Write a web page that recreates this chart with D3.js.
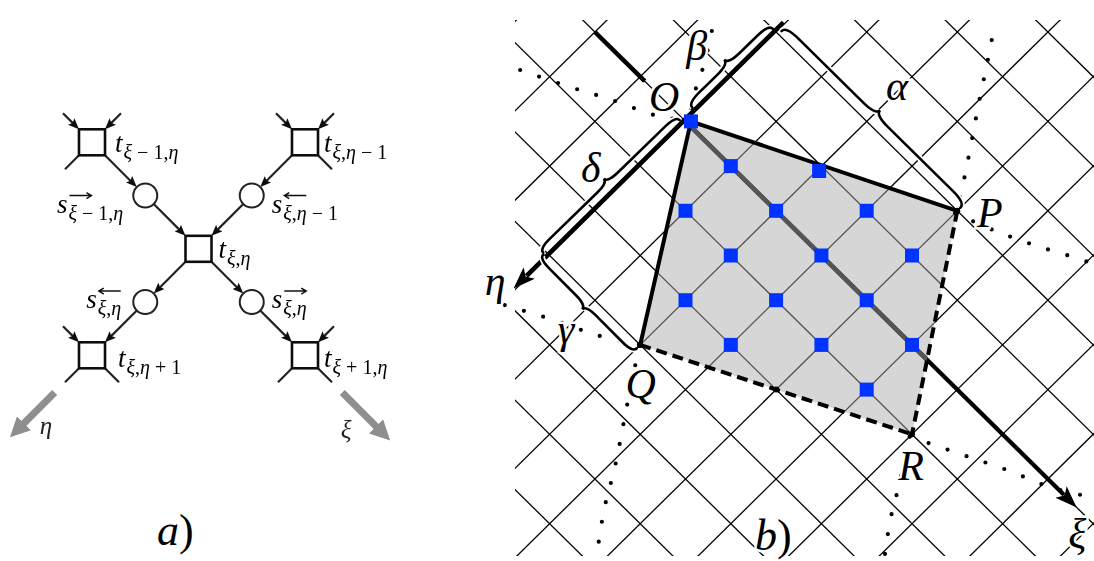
<!DOCTYPE html>
<html>
<head>
<meta charset="utf-8">
<script src="https://cdn.jsdelivr.net/npm/d3@7"></script>
<style>
  body { margin: 0; background: #fff; }
  svg { display: block; }
  text { font-family: "Liberation Serif", "DejaVu Serif", serif; font-style: italic; fill: #000; }
</style>
</head>
<body>
<script>
// ---------- panel a: factor graph, in (xi, eta) lattice units ----------
var factorXi  = [-1, 0, 0, 0, 1];
var factorEta = [0, -1, 0, 1, 0];
var factorSub = ["ξ − 1,η", "ξ,η − 1", "ξ,η", "ξ,η + 1", "ξ + 1,η"];

var msgXi  = [-0.5, 0, 0, 0.5];
var msgEta = [0, -0.5, 0.5, 0];
var msgSub = ["ξ − 1,η", "ξ,η − 1", "ξ,η", "ξ,η"];
var msgDir = ["right", "left", "left", "right"];

// directed links: [from, to], f = factor index, m = message index
var linkFrom = ["f0", "m0", "f1", "m1", "f2", "m2", "f2", "m3"];
var linkTo   = ["m0", "f2", "m1", "f2", "m2", "f3", "m3", "f4"];

// stubs on outer factors: direction names -xi, -eta, +xi, +eta
var stubIn  = [["-xi", "-eta"], ["-xi", "-eta"], [], ["-xi"], ["-eta"]];
var stubOut = [["+eta"], ["+xi"], [], ["+eta", "+xi"], ["+eta", "+xi"]];

// ---------- panel b: lattice (a along xi, b along eta) ----------
var gridA = [-4, -3, -2, -1, 0, 1, 2, 3, 4, 5, 6, 7, 8, 9, 10];
var gridB = [-7, -6, -5, -4, -3, -2, -1, 0, 1, 2, 3, 4, 5, 6, 7, 8];

var cornerName = ["O", "P", "R", "Q"];
var cornerA = [0.06, 4, 6, 2];
var cornerB = [-0.06, -2, 1, 3];

var blueA = [0.06, 1, 2.03, 1, 2, 3, 2, 3, 4, 2, 3, 4, 3, 4, 5, 5];
var blueB = [-0.06, 0, -0.92, 1, 0, -1, 1, 0, -1, 2, 1, 0, 2, 1, 0, 1];

var dotCurves = [
  [[-2.40, 1.25], [-1.66, 0.89], [-1.05, 0.57], [-0.41, 0.27], [-0.04, 0.01]],
  [[-0.09, -0.21], [-0.28, -0.53], [-0.45, -0.88], [-0.69, -1.25], [-0.85, -1.53]],
  [[2.47, -4.29], [2.68, -3.98], [2.98, -3.52], [3.37, -2.95], [3.79, -2.32], [4.0, -1.95]],
  [[4.0, -1.95], [4.61, -2.18], [5.24, -2.47], [5.85, -2.79], [6.10, -2.91]],
  [[0.06, 4.05], [0.76, 3.68], [1.41, 3.37], [2.0, 3.0]],
  [[2.0, 3.02], [2.53, 3.82], [3.07, 4.62], [3.45, 5.25], [3.85, 5.80]],
  [[6.0, 1.05], [6.79, 0.67], [7.45, 0.35], [8.11, 0.07], [8.72, -0.30]],
  [[6.0, 1.05], [6.49, 1.82], [6.72, 2.20], [7.05, 2.65]]
];

// braces: from, to (lattice), depth px
var braceFrom = [[-0.08, -0.23], [0.05, -2.07], [-0.1, 3.04], [2.0, 3.08]];
var braceTo   = [[-0.07, -2.0], [4.0, -2.07], [-0.08, 0.05], [-0.08, 3.06]];
var braceName = ["β", "α", "δ", "γ"];

var labelText = ["O", "β", "α", "P", "δ", "η", "γ", "Q", "R", "ξ"];
var labelA = [-0.35, -0.56, 2.10, 4.54, -0.37, -0.16, 1.16, 2.60, 6.50, 9.10];
var labelB = [0.12, -0.81, -2.57, -2.18, 1.72, 4.04, 3.80, 3.59, 1.52, 0.45];

// ---------- setup ----------
var svg = d3.select("body").append("svg").attr("width", 1094).attr("height", 561);
var defs = svg.append("defs");

function marker(id, d, w, h, refX, fill) {
  defs.append("marker").attr("id", id)
    .attr("viewBox", "0 0 " + w + " " + h)
    .attr("refX", refX).attr("refY", h / 2)
    .attr("markerWidth", w).attr("markerHeight", h)
    .attr("markerUnits", "userSpaceOnUse").attr("orient", "auto")
    .append("path").attr("d", d).attr("fill", fill);
}
marker("hb", "M0,0 L22,8 L0,16 L5,8 Z", 22, 16, 4, "#000");
marker("ha", "M0,0 L11,4.5 L0,9 L2,4.5 Z", 11, 9, 3, "#111");
marker("hg", "M0,0 L20,10 L0,20 Z", 20, 20, 3, "#8e8e8e");

defs.append("filter").attr("id", "soft")
  .append("feGaussianBlur").attr("stdDeviation", 0.55);

function shorten(p, q, d) {
  var dx = q[0] - p[0], dy = q[1] - p[1], L = Math.hypot(dx, dy);
  return [q[0] - dx / L * d, q[1] - dy / L * d];
}

// ================= panel a =================
var ua = d3.scaleLinear().domain([0, 1]).range([198.5, 305]);   // xi - eta
var va = d3.scaleLinear().domain([0, 1]).range([248.8, 355.3]); // xi + eta
function ptA(x, e) { return [ua(x - e), va(x + e)]; }

var gA = svg.append("g").attr("filter", "url(#soft)");
var half = 13, rad = 12;
var dirs = { "-xi": [-1, -1], "-eta": [1, -1], "+xi": [1, 1], "+eta": [-1, 1] };

function nodePos(id) {
  var i = +id.slice(1);
  return id[0] === "f" ? ptA(factorXi[i], factorEta[i]) : ptA(msgXi[i], msgEta[i]);
}
function edgePoint(id, toward) {
  var c = nodePos(id);
  var sx = Math.sign(toward[0] - c[0]), sy = Math.sign(toward[1] - c[1]);
  var k = id[0] === "f" ? half : rad / Math.SQRT2;
  return [c[0] + sx * k, c[1] + sy * k];
}

linkFrom.forEach(function (f, i) {
  var t = linkTo[i];
  var p = edgePoint(f, nodePos(t)), q = edgePoint(t, nodePos(f));
  var e = shorten(p, q, 8);
  gA.append("line").attr("x1", p[0]).attr("y1", p[1]).attr("x2", e[0]).attr("y2", e[1])
    .attr("stroke", "#222").attr("stroke-width", 2.2).attr("marker-end", "url(#ha)");
});

factorXi.forEach(function (x, i) {
  var c = ptA(x, factorEta[i]);
  stubIn[i].forEach(function (d) {
    var s = dirs[d], corner = [c[0] + s[0] * half, c[1] + s[1] * half];
    var start = [corner[0] + s[0] * 16, corner[1] + s[1] * 16];
    var e = shorten(start, corner, 8);
    gA.append("line").attr("x1", start[0]).attr("y1", start[1]).attr("x2", e[0]).attr("y2", e[1])
      .attr("stroke", "#222").attr("stroke-width", 2.2).attr("marker-end", "url(#ha)");
  });
  stubOut[i].forEach(function (d) {
    var s = dirs[d], corner = [c[0] + s[0] * half, c[1] + s[1] * half];
    gA.append("line").attr("x1", corner[0]).attr("y1", corner[1])
      .attr("x2", corner[0] + s[0] * 14).attr("y2", corner[1] + s[1] * 14)
      .attr("stroke", "#222").attr("stroke-width", 2.2);
  });
});

gA.selectAll("rect.factor").data(factorXi).enter().append("rect")
  .attr("class", "factor")
  .attr("x", function (d, i) { return ptA(d, factorEta[i])[0] - half; })
  .attr("y", function (d, i) { return ptA(d, factorEta[i])[1] - half; })
  .attr("width", 2 * half).attr("height", 2 * half)
  .attr("fill", "#fff").attr("stroke", "#111").attr("stroke-width", 2.6);

gA.selectAll("circle.msg").data(msgXi).enter().append("circle")
  .attr("class", "msg")
  .attr("cx", function (d, i) { return ptA(d, msgEta[i])[0]; })
  .attr("cy", function (d, i) { return ptA(d, msgEta[i])[1]; })
  .attr("r", rad).attr("fill", "#fff").attr("stroke", "#222").attr("stroke-width", 2);

function subLabel(x, y, main, sub, anchorEnd, over) {
  var grp = gA.append("g");
  var t1 = grp.append("text").attr("x", 0).attr("y", 0).style("font-size", "27px").text(main);
  var w1 = t1.node().getComputedTextLength();
  var t2 = grp.append("text").attr("x", w1 + 1).attr("y", 7).style("font-size", "20px");
  sub.split("").forEach(function (ch) {
    t2.append("tspan").style("font-style", /[ξη]/.test(ch) ? "italic" : "normal").text(ch);
  });
  var w2 = t2.node().getComputedTextLength();
  if (over) {
    var x0 = w1 + 2, x1 = w1 + 24, ay = -17;
    var head = over === "right"
      ? "M" + (x1 - 5) + "," + (ay - 3) + "L" + x1 + "," + ay + "L" + (x1 - 5) + "," + (ay + 3)
      : "M" + (x0 + 5) + "," + (ay - 3) + "L" + x0 + "," + ay + "L" + (x0 + 5) + "," + (ay + 3);
    grp.append("path").attr("d", "M" + x0 + "," + ay + "H" + x1 + head)
      .attr("fill", "none").attr("stroke", "#111").attr("stroke-width", 1.4);
  }
  var shift = anchorEnd ? -(w1 + 1 + w2) : 0;
  grp.attr("transform", "translate(" + (x + shift) + "," + y + ")");
}

var factorDx = [23, 19, 20, 26, 19], factorDy = [10, 10, 9, 12, 12];
factorXi.forEach(function (x, i) {
  var c = ptA(x, factorEta[i]);
  subLabel(c[0] + factorDx[i], c[1] + factorDy[i], "t", factorSub[i], false, null);
});
var msgDx = [-22, 20, -24, 20], msgDy = [17, 17, 6, 6];
msgXi.forEach(function (x, i) {
  var c = ptA(x, msgEta[i]);
  subLabel(c[0] + msgDx[i], c[1] + msgDy[i], "s", msgSub[i], msgDx[i] < 0, msgDir[i]);
});

// gray direction arrows
var axisLen = [[0, 1.35, 0, 1.77, "η", 36, -3], [1.35, 0, 1.80, 0, "ξ", -44, -3]];
axisLen.forEach(function (d) {
  var p = ptA(d[0], d[1]), q = ptA(d[2], d[3]);
  var e = shorten(p, q, 17);
  gA.append("line").attr("x1", p[0]).attr("y1", p[1]).attr("x2", e[0]).attr("y2", e[1])
    .attr("stroke", "#8e8e8e").attr("stroke-width", 7).attr("marker-end", "url(#hg)");
  gA.append("text").attr("x", q[0] + d[5]).attr("y", q[1] + d[6])
    .attr("text-anchor", "middle").style("font-size", "25px").style("fill", "#222").text(d[4]);
});

var la = svg.append("text").attr("x", 157).attr("y", 545).style("font-size", "44px");
la.append("tspan").text("a");
la.append("tspan").style("font-style", "normal").text(")");

// ================= panel b =================
var xb = d3.scaleLinear().domain([0, 1]).range([685.5, 730.8]); // a - b
var yb = d3.scaleLinear().domain([0, 1]).range([121.4, 166.1]); // a + b
function pt(a, b) { return [xb(a - b), yb(a + b)]; }

defs.append("clipPath").attr("id", "frame").append("rect")
  .attr("x", 515).attr("y", 20).attr("width", 579).attr("height", 536);

var polyPts = cornerA.map(function (a, i) { return pt(a, cornerB[i]); });
defs.append("clipPath").attr("id", "poly").append("polygon")
  .attr("points", polyPts.map(function (p) { return p.join(","); }).join(" "));

function gridLines(g, color, w) {
  gridA.forEach(function (a) {
    var p = pt(a, -9), q = pt(a, 10);
    g.append("line").attr("x1", p[0]).attr("y1", p[1]).attr("x2", q[0]).attr("y2", q[1])
      .attr("stroke", color).attr("stroke-width", w);
  });
  gridB.forEach(function (b) {
    var p = pt(-6, b), q = pt(13, b);
    g.append("line").attr("x1", p[0]).attr("y1", p[1]).attr("x2", q[0]).attr("y2", q[1])
      .attr("stroke", color).attr("stroke-width", w);
  });
}

var gB = svg.append("g");
gridLines(gB.append("g").attr("clip-path", "url(#frame)"), "#000", 1.3);

gB.append("polygon")
  .attr("points", polyPts.map(function (p) { return p.join(","); }).join(" "))
  .attr("fill", "#d6d6d6");
gridLines(gB.append("g").attr("clip-path", "url(#poly)"), "#555", 1.3);

// dotted curves
var curve = d3.line()
  .x(function (d) { return pt(d[0], d[1])[0]; })
  .y(function (d) { return pt(d[0], d[1])[1]; })
  .curve(d3.curveCatmullRom);
gB.selectAll("path.dot").data(dotCurves).enter().append("path")
  .attr("class", "dot").attr("d", curve)
  .attr("fill", "none").attr("stroke", "#000").attr("stroke-width", 4.2)
  .attr("stroke-linecap", "round").attr("stroke-dasharray", "0 20");

// axes
function axisLine(p, tip, w, withHead) {
  var e = withHead ? shorten(p, tip, 17) : tip;
  var l = gB.append("line").attr("x1", p[0]).attr("y1", p[1]).attr("x2", e[0]).attr("y2", e[1])
    .attr("stroke", "#000").attr("stroke-width", w);
  if (withHead) l.attr("marker-end", "url(#hb)");
}
axisLine(pt(0, 0), pt(8.62, 0), 4.2, true);      // xi axis
axisLine(pt(-0.03, -2.19), pt(-0.03, 3.75), 4.2, true); // eta axis
axisLine(pt(-2, 0), pt(-0.9, 0), 4.5, false);   // short bold piece

gB.append("line").attr("clip-path", "url(#poly)")
  .attr("x1", pt(0, 0)[0]).attr("y1", pt(0, 0)[1]).attr("x2", pt(7, 0)[0]).attr("y2", pt(7, 0)[1])
  .attr("stroke", "#555").attr("stroke-width", 4.6);

// polygon edges: O-P, O-Q solid ; P-R, Q-R dashed
var edgeFrom = [0, 0, 1, 3], edgeTo = [1, 3, 2, 2], edgeDash = [false, false, true, true];
edgeFrom.forEach(function (f, i) {
  var p = polyPts[f], q = polyPts[edgeTo[i]];
  gB.append("line").attr("x1", p[0]).attr("y1", p[1]).attr("x2", q[0]).attr("y2", q[1])
    .attr("stroke", "#000").attr("stroke-width", 4)
    .attr("stroke-dasharray", edgeDash[i] ? "11 6" : null);
});

// braces
function bracePath(p1, p2, q) {
  var dx = p2[0] - p1[0], dy = p2[1] - p1[1], L = Math.hypot(dx, dy);
  var ux = dx / L, uy = dy / L, nx = uy, ny = -ux;
  function P(s, n) { return [p1[0] + ux * s + nx * n, p1[1] + uy * s + ny * n]; }
  var r = Math.min(q * 1.3, L / 4), h = q / 2, m = L / 2;
  var p = d3.path(), a = P(0, 0), c, e;
  p.moveTo(a[0], a[1]);
  c = P(0, h); e = P(r, h); p.quadraticCurveTo(c[0], c[1], e[0], e[1]);
  e = P(m - r, h); p.lineTo(e[0], e[1]);
  c = P(m, h); e = P(m, q); p.quadraticCurveTo(c[0], c[1], e[0], e[1]);
  c = P(m, h); e = P(m + r, h); p.quadraticCurveTo(c[0], c[1], e[0], e[1]);
  e = P(L - r, h); p.lineTo(e[0], e[1]);
  c = P(L, h); e = P(L, 0); p.quadraticCurveTo(c[0], c[1], e[0], e[1]);
  return p.toString();
}
var braceDepth = [12, 13, 11, 11];
braceFrom.forEach(function (f, i) {
  var d = bracePath(pt(f[0], f[1]), pt(braceTo[i][0], braceTo[i][1]), braceDepth[i]);
  gB.append("path").attr("d", d).attr("fill", "none").attr("stroke", "#fff").attr("stroke-width", 6);
  gB.append("path").attr("d", d).attr("fill", "none").attr("stroke", "#000").attr("stroke-width", 2.6)
    .attr("stroke-linecap", "round");
});

// blue lattice points
gB.selectAll("rect.site").data(blueA).enter().append("rect")
  .attr("class", "site")
  .attr("x", function (d, i) { return pt(d, blueB[i])[0] - 7; })
  .attr("y", function (d, i) { return pt(d, blueB[i])[1] - 7; })
  .attr("width", 14).attr("height", 14).attr("fill", "#0033ff");

// small vertex dots
[[4, -2], [6, 1], [2, 3], [4, 2]].forEach(function (d) {
  var p = pt(d[0], d[1]);
  gB.append("circle").attr("cx", p[0]).attr("cy", p[1]).attr("r", 3).attr("fill", "#000");
});

// labels
gB.selectAll("text.lab").data(labelText).enter().append("text")
  .attr("class", "lab")
  .attr("x", function (d, i) { return pt(labelA[i], labelB[i])[0]; })
  .attr("y", function (d, i) { return pt(labelA[i], labelB[i])[1]; })
  .attr("text-anchor", "middle")
  .style("font-size", "42px")
  .style("stroke", "#fff").style("stroke-width", 5).style("paint-order", "stroke")
  .text(function (d) { return d; });

var lb = svg.append("text").attr("x", 755).attr("y", 550).style("font-size", "44px")
  .style("stroke", "#fff").style("stroke-width", 5).style("paint-order", "stroke");
lb.append("tspan").text("b");
lb.append("tspan").style("font-style", "normal").text(")");
</script>
</body>
</html>
